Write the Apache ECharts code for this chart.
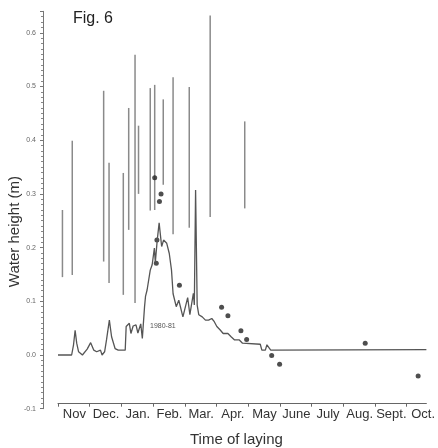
<!DOCTYPE html>
<html>
<head>
<meta charset="utf-8">
<script src="https://cdn.jsdelivr.net/npm/echarts@6/dist/echarts.min.js"></script>
<style>
html,body{margin:0;padding:0;background:#fff;}
#c{width:438px;height:448px;}
</style>
</head>
<body>
<div id="c"></div>
<script>
// Month labels (x axis), x values are in months from 1 Nov
const months = ['Nov', 'Dec.', 'Jan.', 'Feb.', 'Mar.', 'Apr.', 'May', 'June', 'July', 'Aug.', 'Sept.', 'Oct.'];

// Vertical range bars: position (months), low and high water height (m)
const rangeMonth = [0.14, 0.45, 1.44, 1.61, 2.06, 2.23, 2.43, 2.54, 2.91, 3.05, 3.32, 3.63, 4.14, 4.80, 5.89];
const rangeLow   = [0.145, 0.149, 0.174, 0.134, 0.112, 0.233, 0.097, 0.300, 0.269, 0.270, 0.317, 0.225, 0.237, 0.257, 0.273];
const rangeHigh  = [0.270, 0.399, 0.492, 0.358, 0.339, 0.460, 0.559, 0.427, 0.497, 0.503, 0.476, 0.517, 0.499, 0.632, 0.435];

// Water level 1980-81 curve
const levelMonth = [0.00, 0.43, 0.49, 0.54, 0.59, 0.65, 0.77, 0.92, 1.03, 1.13, 1.22, 1.34, 1.39, 1.47, 1.53, 1.62, 1.69, 1.80, 1.90, 2.12,
  2.15, 2.25, 2.30, 2.37, 2.46, 2.52, 2.61, 2.66, 2.73, 2.76, 2.81, 2.91, 2.97, 3.04, 3.07, 3.13, 3.19, 3.24, 3.27, 3.33,
  3.43, 3.51, 3.58, 3.63, 3.73, 3.81, 3.94, 4.09, 4.16, 4.27, 4.30, 4.34, 4.39, 4.44, 4.55, 4.65, 4.75, 4.85, 4.93, 5.01,
  5.11, 5.21, 5.36, 5.46, 5.57, 5.72, 5.82, 6.38, 6.43, 6.54, 6.59, 6.65, 6.71, 11.62];
const levelValue = [0.000, 0.000, 0.019, 0.046, 0.022, 0.006, 0.000, 0.011, 0.023, 0.009, 0.006, 0.009, 0.000, 0.006, 0.028, 0.065, 0.034, 0.012, 0.009, 0.009,
  0.053, 0.059, 0.040, 0.054, 0.056, 0.041, 0.058, 0.031, 0.090, 0.109, 0.121, 0.158, 0.168, 0.199, 0.173, 0.214, 0.246, 0.218, 0.202, 0.214,
  0.208, 0.189, 0.158, 0.114, 0.090, 0.102, 0.071, 0.107, 0.075, 0.115, 0.093, 0.307, 0.093, 0.075, 0.071, 0.065, 0.065, 0.068, 0.062, 0.053,
  0.047, 0.040, 0.040, 0.034, 0.028, 0.028, 0.022, 0.020, 0.009, 0.009, 0.019, 0.019, 0.009, 0.010];

// Single observations (dots)
const obsMonth = [3.05, 3.25, 3.20, 3.12, 3.10, 3.83, 5.16, 5.36, 5.77, 5.95, 6.74, 6.99, 9.69, 11.36];
const obsValue = [0.330, 0.300, 0.286, 0.214, 0.171, 0.130, 0.089, 0.073, 0.045, 0.029, -0.001, -0.017, 0.022, -0.039];

const rangeData = rangeMonth.map((m, i) => [m, rangeLow[i], rangeHigh[i]]);
const levelData = levelMonth.map((m, i) => [m, levelValue[i]]);
const obsData = obsMonth.map((m, i) => [m, obsValue[i]]);

const chart = echarts.init(document.getElementById('c'), null, {renderer: 'canvas'});
const FONT = '"Liberation Sans", Arial, sans-serif';

chart.setOption({
  animation: false,
  backgroundColor: '#ffffff',
  grid: {left: 58, right: 0, top: 11.3, bottom: 39.3, containLabel: false},
  xAxis: {
    type: 'value', min: 0, max: 11.62, interval: 1, position: 'bottom', offset: -5,
    axisLine: {show: true, onZero: false, lineStyle: {color: '#666', width: 1}},
    axisTick: {show: true, length: 3, lineStyle: {color: '#666'}},
    axisLabel: {
      show: true, margin: 4, fontSize: 13, color: '#333', fontFamily: FONT,
      showMaxLabel: false, padding: [0, 0, 0, 32.7],
      formatter: v => months[Math.round(v)] || ''
    },
    splitLine: {show: false}
  },
  yAxis: {
    type: 'value', min: -0.1, max: 0.64, interval: 0.1, offset: 15,
    axisLine: {show: true, onZero: false, lineStyle: {color: '#777', width: 1}},
    axisTick: {show: true, length: 3, lineStyle: {color: '#777'}},
    minorTick: {show: true, splitNumber: 10, length: 2, lineStyle: {color: '#888'}},
    axisLabel: {
      margin: 7, fontSize: 7, color: '#666', fontFamily: FONT, showMaxLabel: false,
      formatter: v => (Math.round(v * 10) / 10).toFixed(1)
    },
    splitLine: {show: false}
  },
  graphic: [
    {type: 'text', left: 73, top: 11, style: {text: 'Fig. 6', fontSize: 16, fill: '#222', fontFamily: FONT}},
    {type: 'text', x: 150, y: 323, style: {text: '1980-81', fontSize: 7, fill: '#555', fontFamily: FONT}},
    {type: 'text', left: 190, top: 432, style: {text: 'Time of laying', fontSize: 15, fill: '#333', fontFamily: FONT}},
    {type: 'text', left: 7, top: 176, rotation: Math.PI / 2, style: {text: 'Water height (m)', fontSize: 15, fill: '#333', fontFamily: FONT}}
  ],
  series: [
    {
      type: 'custom', name: 'range',
      data: rangeData,
      encode: {x: 0, y: [1, 2]},
      renderItem: function (params, api) {
        const p1 = api.coord([api.value(0), api.value(1)]);
        const p2 = api.coord([api.value(0), api.value(2)]);
        return {
          type: 'line',
          shape: {x1: p1[0], y1: p1[1], x2: p2[0], y2: p2[1]},
          style: {stroke: '#8a8a8a', lineWidth: 1.5}
        };
      }
    },
    {
      type: 'line', name: '1980-81',
      data: levelData, showSymbol: false, symbol: 'none',
      lineStyle: {color: '#555', width: 1.3}
    },
    {
      type: 'scatter', name: 'obs',
      data: obsData, symbol: 'circle', symbolSize: 5,
      itemStyle: {color: '#222'}
    }
  ]
});
</script>
</body>
</html>
